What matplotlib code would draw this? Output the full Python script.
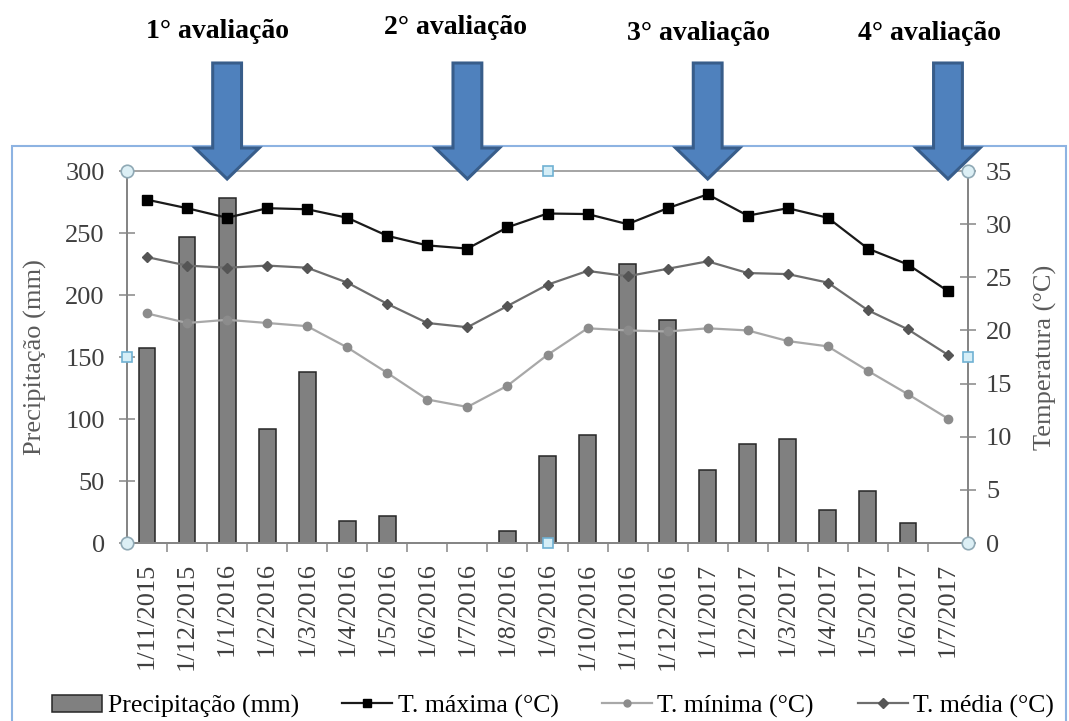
import matplotlib
matplotlib.use("Agg")
import matplotlib.pyplot as plt
from matplotlib.patches import Polygon, Rectangle
from matplotlib.transforms import blended_transform_factory
from matplotlib.lines import Line2D
from matplotlib.patches import Patch

plt.rcParams['font.family'] = ['Liberation Serif', 'DejaVu Serif']

# Monthly records
months = ['1/11/2015', '1/12/2015', '1/1/2016', '1/2/2016', '1/3/2016', '1/4/2016',
          '1/5/2016', '1/6/2016', '1/7/2016', '1/8/2016', '1/9/2016', '1/10/2016',
          '1/11/2016', '1/12/2016', '1/1/2017', '1/2/2017', '1/3/2017', '1/4/2017',
          '1/5/2017', '1/6/2017', '1/7/2017']
precip = [157, 247, 278, 92, 138, 18, 22, 0, 0, 10, 70, 87,
          225, 180, 59, 80, 84, 27, 42, 16, 0]
t_max = [32.3, 31.5, 30.6, 31.5, 31.4, 30.6, 28.9, 28.0, 27.7, 29.7, 31.0, 30.95,
         30.0, 31.5, 32.8, 30.8, 31.5, 30.6, 27.7, 26.2, 23.7]
t_min = [21.6, 20.7, 21.0, 20.7, 20.4, 18.4, 16.0, 13.5, 12.8, 14.8, 17.7, 20.2,
         20.0, 19.9, 20.2, 20.0, 19.0, 18.5, 16.2, 14.0, 11.7]
t_med = [26.9, 26.1, 25.9, 26.1, 25.9, 24.5, 22.5, 20.7, 20.3, 22.3, 24.3, 25.6,
         25.1, 25.8, 26.5, 25.4, 25.3, 24.5, 21.9, 20.1, 17.7]

# Evaluation dates marked with arrows
eval_labels = ['1° avaliação', '2° avaliação', '3° avaliação', '4° avaliação']
eval_months = ['1/1/2016', '1/7/2016', '1/1/2017', '1/7/2017']

W, H = 1069, 721
fig = plt.figure(figsize=(W / 100, H / 100), dpi=100)
ax = fig.add_axes([127 / W, 1 - 543 / H, (968 - 127) / W, (543 - 171) / H])
ax2 = ax.twinx()

x = list(range(len(months)))
tick_col = '#3f3f3f'
axis_col = '#868686'

ax.bar(x, precip, width=0.42, color='#808080', edgecolor='#262626', linewidth=1.1, zorder=2)
ax.set_xlim(-0.5, len(months) - 0.5)
ax.set_ylim(0, 300)
ax.set_yticks(range(0, 301, 50))
ax.set_xticks(x)
ax.set_xticklabels(months, rotation=90, fontsize=19, color=tick_col)
ax.set_xticks([i + 0.5 for i in x[:-1]], minor=True)
ax.tick_params(axis='x', which='major', length=0, pad=14)
ax.tick_params(axis='x', which='minor', length=6.5, width=1.1, color=axis_col, direction='out')
ax.tick_params(axis='y', which='major', length=12, width=1.1, color=axis_col,
               direction='inout', labelsize=19, labelcolor=tick_col, pad=10)
ax.set_ylabel('Precipitação (mm)', fontsize=19, color='#5a5a5a')
ax.yaxis.set_label_coords(-0.095, 0.5)

ax2.plot(x, t_max, color='#1a1a1a', lw=1.6, marker='s', ms=6.8, mfc='black', mec='black', zorder=5)
ax2.plot(x, t_med, color='#6e6e6e', lw=1.6, marker='D', ms=5.5, mfc='#555555', mec='#555555', zorder=4)
ax2.plot(x, t_min, color='#a8a8a8', lw=1.6, marker='o', ms=6, mfc='#8c8c8c', mec='#8c8c8c', zorder=3)
ax2.set_ylim(0, 35)
ax2.set_yticks(range(0, 36, 5))
ax2.tick_params(axis='y', which='major', length=12, width=1.1, color=axis_col,
                direction='inout', labelsize=19, labelcolor=tick_col, pad=7)
ax2.set_ylabel('Temperatura (°C)', fontsize=19, color='#5a5a5a')
ax2.yaxis.set_label_coords(1.078, 0.5)

for a in (ax, ax2):
    for s in ('left', 'right', 'bottom'):
        a.spines[s].set_color(axis_col)
        a.spines[s].set_linewidth(1.4)
    a.spines['top'].set_color('#a6a6a6')
    a.spines['top'].set_linewidth(1.4)

# Selection handles on the plot area
tr_ax = ax2.transAxes
for hx, hy in [(0, 0), (0, 1), (1, 0), (1, 1)]:
    ax2.plot([hx], [hy], marker='o', ms=9, mfc='#dceff5', mec='#8fa9b5', mew=1.2,
             transform=tr_ax, clip_on=False, zorder=10)
for hx, hy in [(0, 0.5), (1, 0.5), (0.5, 0), (0.5, 1)]:
    ax2.plot([hx], [hy], marker='s', ms=7, mfc='#d5eef7', mec='#6fb1d3', mew=1.2,
             transform=tr_ax, clip_on=False, zorder=10)

# Evaluation arrows and headings
blend = blended_transform_factory(ax2.transData, ax2.transAxes)
ppx = 1 / 372  # one pixel in axes-height fraction
shaft_half, head_half = 0.36, 0.80
tip, head_top, shaft_top = 1 - 8 * ppx, 1 + 23 * ppx, 1 + 108 * ppx
text_dx = [-0.25, -0.3, -0.22, -0.47]
text_y = [1 + 140 * ppx, 1 + 144 * ppx, 1 + 138 * ppx, 1 + 138 * ppx]
for lab, m, dx, ty in zip(eval_labels, eval_months, text_dx, text_y):
    cx = months.index(m)
    verts = [(cx - shaft_half, shaft_top), (cx + shaft_half, shaft_top),
             (cx + shaft_half, head_top), (cx + head_half, head_top),
             (cx, tip), (cx - head_half, head_top), (cx - shaft_half, head_top)]
    fig.add_artist(Polygon(verts, closed=True, transform=blend, facecolor='#4f81bd',
                           edgecolor='#385d8a', linewidth=2.2, zorder=20, clip_on=False))
    fig.text(cx + dx, ty, lab, transform=blend, ha='center', va='center',
             fontsize=20, fontweight='bold', color='black', zorder=21)

# Chart frame
fig.add_artist(Rectangle((12 / W, -0.02), (1066 - 12) / W, (H - 146) / H + 0.02,
                         transform=fig.transFigure, fill=False, edgecolor='#8db3e2',
                         linewidth=1.5, zorder=0))

handles = [Patch(facecolor='#808080', edgecolor='#262626', linewidth=1.1),
           Line2D([], [], color='#1a1a1a', lw=1.6, marker='s', ms=5.5, mfc='black', mec='black'),
           Line2D([], [], color='#a8a8a8', lw=1.6, marker='o', ms=5, mfc='#8c8c8c', mec='#8c8c8c'),
           Line2D([], [], color='#6e6e6e', lw=1.6, marker='D', ms=5, mfc='#555555', mec='#555555')]
labels = ['Precipitação (mm)', 'T. máxima (°C)', 'T. mínima (°C)', 'T. média (°C)']
fig.legend(handles, labels, loc='center', bbox_to_anchor=(553 / W, 15 / H), ncol=4,
           frameon=False, fontsize=18.5, handlelength=1.95, handletextpad=0.2,
           columnspacing=1.7, borderaxespad=0, handleheight=0.65)

fig.savefig('out.png', dpi=100)
